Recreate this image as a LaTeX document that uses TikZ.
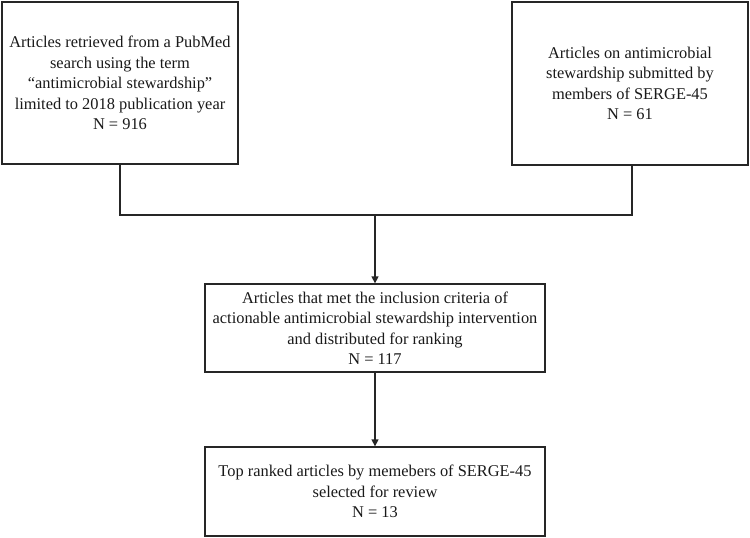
\documentclass[tikz,border=0pt]{standalone}
\usepackage{fontspec}
\setmainfont{Liberation Serif}
\usetikzlibrary{arrows.meta}
\begin{document}
\begin{tikzpicture}[x=1pt,y=-1pt,
  box/.style={draw=black!85, line width=1.3pt, align=center, inner sep=0pt,
    font=\fontsize{16.4}{20.5}\selectfont, text=black!90},
  conn/.style={draw=black!85, line width=1.3pt},
  arr/.style={conn, -{Triangle[length=7pt,width=7pt]}}]
\useasboundingbox (0,0) rectangle (750,538);
\node[box, minimum width=236pt, minimum height=162pt] (a) at (120,83)
  {Articles retrieved from a PubMed\\search using the term\\“antimicrobial stewardship”\\limited to 2018 publication year\\N = 916};
\node[box, minimum width=236pt, minimum height=163pt] (b) at (630,83.5)
  {Articles on antimicrobial\\stewardship submitted by\\members of SERGE-45\\N = 61};
\node[box, minimum width=340pt, minimum height=88pt] (c) at (375,328)
  {Articles that met the inclusion criteria of\\actionable antimicrobial stewardship intervention\\and distributed for ranking\\N = 117};
\node[box, minimum width=340pt, minimum height=89pt] (d) at (375,491.5)
  {Top ranked articles by memebers of SERGE-45\\selected for review\\N = 13};
\coordinate (j) at (375,215);
\draw[conn] (a.south) |- (j) -| ([xshift=2pt]b.south);
\draw[arr] (j) -- (c.north);
\draw[arr] (c.south) -- (d.north);
\end{tikzpicture}
\end{document}
